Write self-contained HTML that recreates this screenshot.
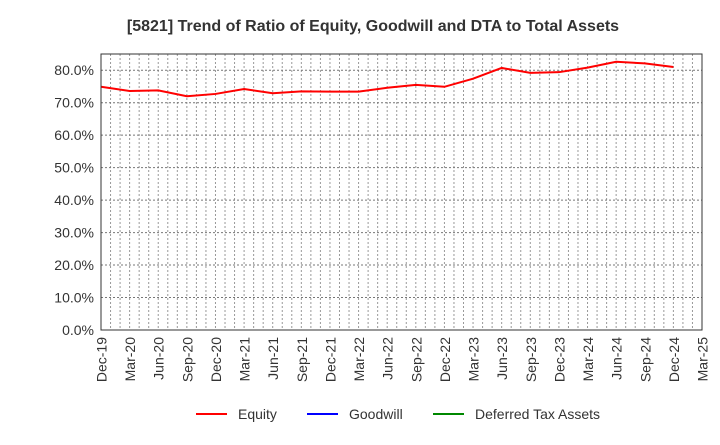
<!DOCTYPE html>
<html><head><meta charset="utf-8"><style>
body{margin:0;background:#fff;font-family:"Liberation Sans",sans-serif}
svg text{font-family:"Liberation Sans",sans-serif;fill:#333}
</style></head><body>
<svg id="c" width="720" height="440" xmlns="http://www.w3.org/2000/svg">
<text x="373" y="31" text-anchor="middle" font-size="16" font-weight="bold">[5821]  Trend of Ratio of Equity, Goodwill and DTA to Total Assets</text>
<g id="grid"></g>
<g id="yax"></g>
<g id="xax"></g>
<g id="series"></g>
<rect x="101" y="54" width="601" height="276" fill="none" stroke="#333" stroke-width="1"/>
<g>
<g><line x1="196" y1="414" x2="227" y2="414" stroke="#f00" stroke-width="2"/><text x="238" y="419" font-size="14">Equity</text></g>
<g><line x1="307" y1="414" x2="338" y2="414" stroke="#00f" stroke-width="2"/><text x="349" y="419" font-size="14">Goodwill</text></g>
<g><line x1="433" y1="414" x2="464" y2="414" stroke="#080" stroke-width="2"/><text x="475" y="419" font-size="14">Deferred Tax Assets</text></g>
</g>
</svg>
<script>
const categories=["Dec-19","Mar-20","Jun-20","Sep-20","Dec-20","Mar-21","Jun-21","Sep-21","Dec-21","Mar-22","Jun-22","Sep-22","Dec-22","Mar-23","Jun-23","Sep-23","Dec-23","Mar-24","Jun-24","Sep-24","Dec-24","Mar-25"];
const equity=[74.9,73.6,73.8,72.0,72.7,74.2,72.9,73.5,73.4,73.4,74.6,75.5,74.9,77.4,80.7,79.2,79.4,80.8,82.6,82.1,81.0];
const yTicks=[0,10,20,30,40,50,60,70,80];
const yMax=85;
const X0=101,X1=702,Y0=330,Y1=54;
const NS="http://www.w3.org/2000/svg";
const xs=i=>X0+(X1-X0)*i/(categories.length-1);
const ys=v=>Y0-(Y0-Y1)*v/yMax;
const grid=document.getElementById('grid'),yax=document.getElementById('yax'),xax=document.getElementById('xax'),ser=document.getElementById('series');
function mk(t,a,p){const e=document.createElementNS(NS,t);for(const k in a)e.setAttribute(k,a[k]);p.appendChild(e);return e;}
const months=(categories.length-1)*3;
for(let m=1;m<months;m++){const x=X0+(X1-X0)*m/months;
const l=mk('line',{x1:x,y1:Y1,x2:x,y2:Y0,stroke:'#999','stroke-dasharray':'2,2','stroke-width':1},grid);

}
yTicks.forEach(v=>{const y=ys(v);
if(v>0){const g=mk('line',{x1:X0,y1:y,x2:X1,y2:y,stroke:'#777','stroke-dasharray':'2,2','stroke-width':1},grid);

}
const t=mk('text',{x:94,y:y+5,'text-anchor':'end','font-size':14},yax);t.textContent=v.toFixed(1)+'%';

});
categories.forEach((c,i)=>{const x=xs(i);
const t=mk('text',{x:0,y:0,'text-anchor':'end','font-size':14,transform:`translate(${x+5.5},337) rotate(-90)`},xax);t.textContent=c;

});
const pl=mk('polyline',{points:equity.map((v,i)=>xs(i)+','+ys(v)).join(' '),fill:'none',stroke:'#f00','stroke-width':2},ser);


</script>
</body></html>
